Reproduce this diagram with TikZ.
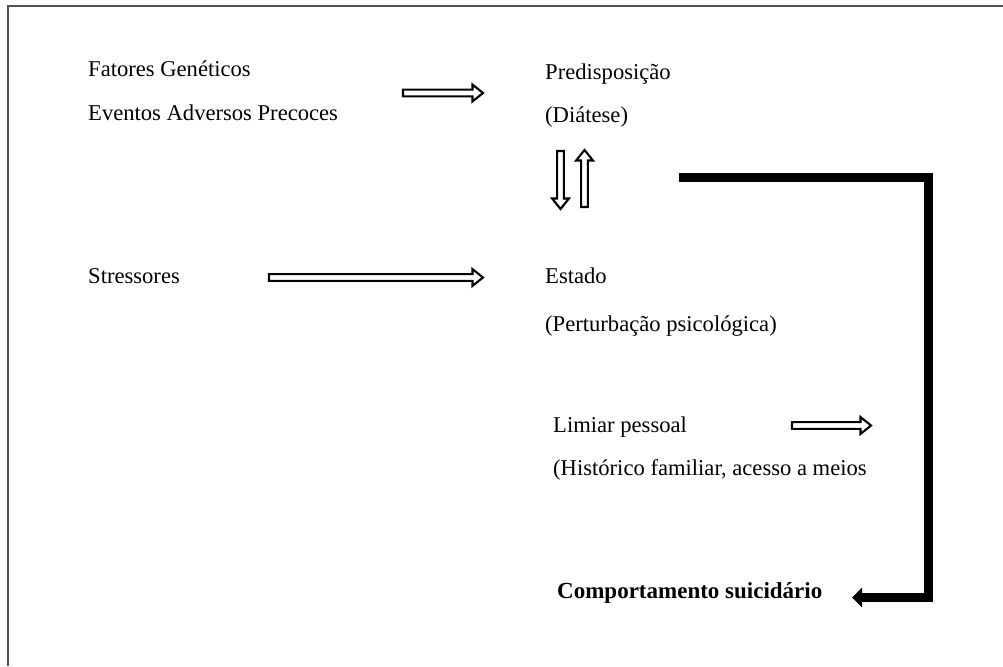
\documentclass[tikz,border=0pt]{standalone}
\usepackage{fontspec}
\setmainfont{Liberation Serif}
\usetikzlibrary{calc,arrows.meta}
\def\sh{3.4pt}
\def\hh{8.4pt}
\def\hl{10.5pt}
\tikzset{
  lbl/.style={anchor=base west, inner sep=0pt, font=\fontsize{22.6}{26}\selectfont},
  hollowarrow/.style={draw, line width=2.1pt, line join=miter, fill=white,
    to path={
      ($(\tikztostart)!\sh!90:(\tikztotarget)$) --
      ($($(\tikztotarget)!\hl!(\tikztostart)$)!\sh!-90:(\tikztostart)$) --
      ($($(\tikztotarget)!\hl!(\tikztostart)$)!\hh!-90:(\tikztostart)$) --
      (\tikztotarget) --
      ($($(\tikztotarget)!\hl!(\tikztostart)$)!\hh!90:(\tikztostart)$) --
      ($($(\tikztotarget)!\hl!(\tikztostart)$)!\sh!90:(\tikztostart)$) --
      ($(\tikztostart)!\sh!-90:(\tikztotarget)$) -- cycle
    }},
  thickarrow/.style={draw, line width=9pt, line join=miter,
    -{Triangle[length=10pt,width=19pt]}},
  frame/.style={draw=black!68, line width=2pt}
}
\begin{document}
\begin{tikzpicture}[x=1pt,y=-1pt]
\useasboundingbox (0,0) rectangle (1003,666);
% frame
\coordinate (f1) at (8,666);
\coordinate (f2) at (8,6);
\coordinate (f3) at (1003,6);
\draw[frame] (f1) -- (f2) -- (f3);
% texts
\node[lbl] (fat) at (88,77) {Fatores Genéticos};
\node[lbl] (eve) at (88,121) {Eventos Adversos Precoces};
\node[lbl] (pre) at (545,80) {Predisposição};
\node[lbl] (dia) at (545,123) {(Diátese)};
\node[lbl] (str) at (88,283) {Stressores};
\node[lbl] (est) at (545,283) {Estado};
\node[lbl] (per) at (545,331) {(Perturbação psicológica)};
\node[lbl] (lim) at (553,432) {Limiar pessoal};
\node[lbl] (his) at (553,475) {(Histórico familiar, acesso a meios};
\node[lbl, font=\fontsize{23}{26}\selectfont\bfseries] (com) at (557,598) {Comportamento suicidário};
% hollow arrows
\coordinate (a1s) at (403,93);
\coordinate (a1t) at (483,93);
\coordinate (a2s) at (269,277.5);
\coordinate (a2t) at (483,277.5);
\coordinate (a3s) at (792,425.5);
\coordinate (a3t) at (871,425.5);
\coordinate (dns) at (560.5,151);
\coordinate (dnt) at (560.5,209);
\coordinate (ups) at (584.5,207);
\coordinate (upt) at (584.5,150);
\draw[hollowarrow] (a1s) to (a1t);
\draw[hollowarrow] (a2s) to (a2t);
\draw[hollowarrow] (a3s) to (a3t);
\draw[hollowarrow] (dns) to (dnt);
\draw[hollowarrow] (ups) to (upt);
% thick L arrow
\coordinate (l0) at (679,177);
\coordinate (l1) at (928.5,177);
\coordinate (l2) at (928.5,597.5);
\coordinate (l3) at (852,597.5);
\draw[thickarrow] (l0) -- (l1) -- (l2) -- (l3);
\end{tikzpicture}
\end{document}
